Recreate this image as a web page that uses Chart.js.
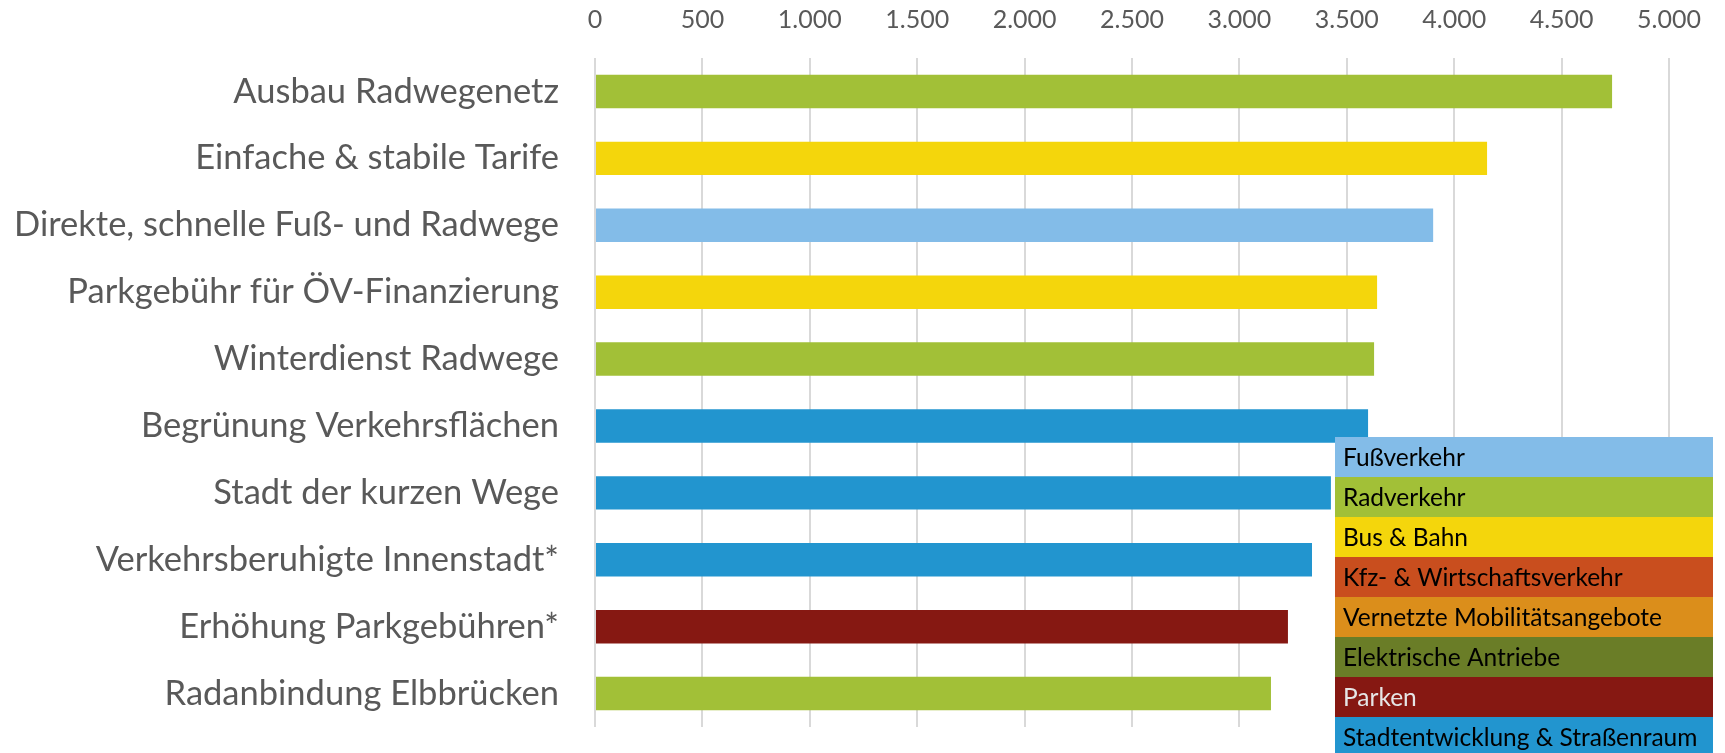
<!DOCTYPE html>
<html>
<head>
<meta charset="utf-8">
<script src="https://cdn.jsdelivr.net/npm/chart.js@4/dist/chart.umd.min.js"></script>
<style>
  html, body { margin: 0; padding: 0; background: #fff; }
</style>
</head>
<body>
<canvas id="barMassnahmen" width="1725" height="753"></canvas>
<script>
var massnahmen = [
  'Ausbau Radwegenetz',
  'Einfache & stabile Tarife',
  'Direkte, schnelle Fuß- und Radwege',
  'Parkgebühr für ÖV-Finanzierung',
  'Winterdienst Radwege',
  'Begrünung Verkehrsflächen',
  'Stadt der kurzen Wege',
  'Verkehrsberuhigte Innenstadt*',
  'Erhöhung Parkgebühren*',
  'Radanbindung Elbbrücken'
];
var stimmen = [4735, 4153, 3902, 3641, 3627, 3599, 3426, 3338, 3226, 3147];
// index in bereiche[] for each bar
var bereichIndex = [1, 2, 0, 2, 1, 7, 7, 7, 6, 1];

var bereiche = [
  'Fußverkehr',
  'Radverkehr',
  'Bus & Bahn',
  'Kfz- & Wirtschaftsverkehr',
  'Vernetzte Mobilitätsangebote',
  'Elektrische Antriebe',
  'Parken',
  'Stadtentwicklung & Straßenraum'
];
var farben = ['#83BCE8', '#A2C037', '#F4D60C', '#C94E1E', '#DB8E1B', '#6A7D27', '#861812', '#2295CF'];
var textFarben = ['#000', '#000', '#000', '#000', '#000', '#000', '#e6e6e6', '#000'];

var achsenWerte = [0, 500, 1000, 1500, 2000, 2500, 3000, 3500, 4000, 4500, 5000];

function tausender(v)
{
  return String(v).replace(/\B(?=(\d{3})+(?!\d))/g, '.');
}

var legendeBox = {
  id: 'legendeBox',
  afterDraw: function(chart) {
    var ctx = chart.ctx;
    var x = 1335, y = 437, w = 378, h = 40;
    ctx.save();
    ctx.font = '24.5px Lato';
    ctx.textBaseline = 'middle';
    ctx.textAlign = 'left';
    bereiche.forEach(function(name, i) {
      ctx.fillStyle = farben[i];
      ctx.fillRect(x, y + i * h, w, h);
      ctx.fillStyle = textFarben[i];
      ctx.fillText(name, x + 8, y + i * h + h / 2 + 1);
    });
    ctx.restore();
  }
};

var barChartData = {
  labels  : massnahmen,
  datasets: [
    {
      label              : 'Stimmen',
      backgroundColor    : bereichIndex.map(function(b) { return farben[b]; }),
      borderWidth        : 0,
      categoryPercentage : 1,
      barPercentage      : 0.5,
      data               : stimmen
    }
  ]
};

var barChartOptions = {
  indexAxis           : 'y',
  responsive          : false,
  animation           : false,
  devicePixelRatio    : 1,
  layout              : { padding: { left: 0, right: 56, top: 0, bottom: 26 } },
  plugins             : {
    legend : { display: false },
    tooltip: { enabled: false }
  },
  scales: {
    x: {
      position: 'top',
      min: 0,
      max: 5000,
      afterBuildTicks: function(scale) {
        scale.ticks = achsenWerte.map(function(v) { return { value: v }; });
      },
      afterFit: function(scale) { scale.height = 58; },
      grid  : { color: '#d9d9d9', lineWidth: 2, drawTicks: false },
      border: { display: false },
      ticks : {
        color: '#595959',
        font : { family: 'Lato', size: 25 },
        padding: 23,
        maxRotation: 0,
        callback: function(v) { return tausender(v); }
      }
    },
    y: {
      afterFit: function(scale) {
        scale.width = 595;
        scale.paddingTop = 0;
        scale.paddingBottom = 0;
      },
      grid  : { display: false, drawTicks: false },
      border: { display: false },
      ticks : {
        color: '#595959',
        font : { family: 'Lato', size: 34.5 },
        padding: 36
      }
    }
  }
};

var barChartCanvas = document.getElementById('barMassnahmen').getContext('2d');
var barChart = new Chart(barChartCanvas, {
  type: 'bar',
  data: barChartData,
  options: barChartOptions,
  plugins: [legendeBox]
});
</script>
</body>
</html>
